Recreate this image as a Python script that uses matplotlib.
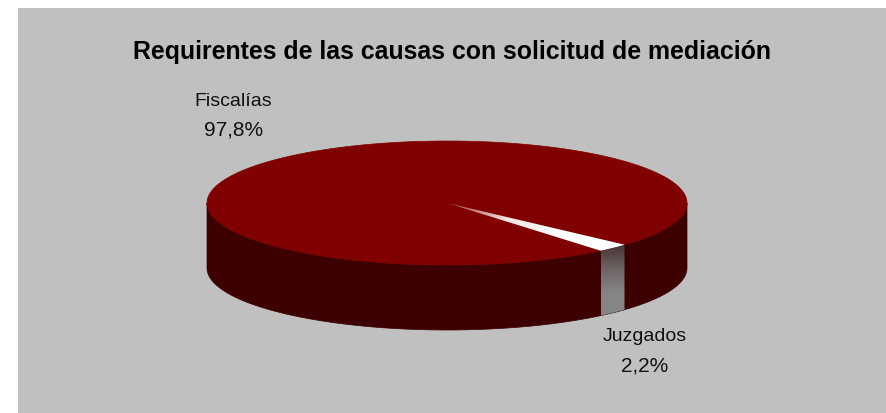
import numpy as np
import matplotlib
matplotlib.use('Agg')
import matplotlib.pyplot as plt
from matplotlib.colors import LinearSegmentedColormap
from matplotlib.patches import Polygon, Rectangle

plt.rcParams['font.family'] = ['Liberation Sans', 'DejaVu Sans']

title = 'Requirentes de las causas con solicitud de mediación'
labels = ['Fiscalías', 'Juzgados']
shares = [97.8, 2.2]
share_labels = ['97,8%', '2,2%']

# pie geometry, in pixels of the 886x414 picture
cx, cy = 447, 204
rx, ry = 240, 62
depth = 65
slice_end = 42.3  # where the small slice stops, degrees below the x axis


def rim(a, b, n=200):
    t = np.radians(np.linspace(a, b, n))
    return cx + rx * np.cos(t), cy + ry * np.sin(t)


def wall(a, b):
    x, y = rim(a, b)
    return np.r_[x, x[::-1]], np.r_[y, y[::-1] + depth]


fig = plt.figure(figsize=(8.86, 4.14), dpi=100, facecolor='white')
ax = fig.add_axes([0, 0, 1, 1])
ax.set_xlim(0, 886)
ax.set_ylim(414, 0)
ax.axis('off')
ax.add_patch(Rectangle((18, 9), 868, 405, fc='#c0c0c0', ec='none', zorder=0))

small_sweep = 360 * shares[1] / sum(shares)
a0, a1 = slice_end, slice_end + small_sweep

# side walls
x, y = wall(0, 180)
ax.fill(x, y, color='#3c0000', lw=0.5, zorder=1)

# top face
x, y = rim(a1, a0 + 360)
ax.fill(np.r_[cx, x], np.r_[cy, y], color='#800000', lw=0.5, zorder=2)

# wall of the small slice, dark at the top and grey at the bottom
x, y = wall(a0, a1)
grey = LinearSegmentedColormap.from_list('g', ['#4a3434', '#6e6464', '#858585', '#858585'])
im = ax.imshow(np.linspace(0, 1, 100)[:, None], cmap=grey, aspect='auto', zorder=3,
               extent=(x.min(), x.max(), y.max(), y.min()))
im.set_clip_path(Polygon(np.c_[x, y], transform=ax.transData))

# top of the small slice, red at the centre and white at the rim
x, y = rim(a0, a1)
tx, ty = np.r_[cx, x], np.r_[cy, y]
red = LinearSegmentedColormap.from_list('r', ['#a03030', '#f4e4e4', '#ffffff', '#ffffff'])
im = ax.imshow(np.linspace(0, 1, 100)[None, :], cmap=red, aspect='auto', zorder=4,
               extent=(tx.min(), tx.max(), ty.max(), ty.min()))
im.set_clip_path(Polygon(np.c_[tx, ty], transform=ax.transData))

ax.set_xlim(0, 886)
ax.set_ylim(414, 0)

ax.text(452, 52, title, ha='center', va='center', fontsize=17.9, fontweight='bold', color='black')
ax.text(233, 102, labels[0], ha='center', va='center', fontsize=14, color='#111111')
ax.text(234, 130, share_labels[0], ha='center', va='center', fontsize=15, color='#111111')
ax.text(645, 337, labels[1], ha='center', va='center', fontsize=14, color='#111111')
ax.text(645, 366, share_labels[1], ha='center', va='center', fontsize=15, color='#111111')

fig.savefig('out.png', dpi=100, facecolor='white')
